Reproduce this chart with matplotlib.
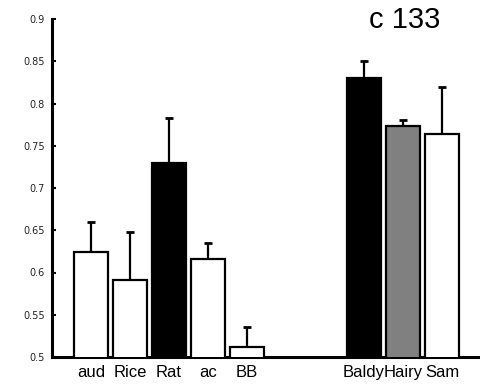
import matplotlib
matplotlib.use("Agg")
import matplotlib.pyplot as plt

categories = ["aud", "Rice", "Rat", "ac", "BB", "Baldy", "Hairy", "Sam"]
positions = [1, 2, 3, 4, 5, 8, 9, 10]
values = [0.624, 0.591, 0.730, 0.616, 0.512, 0.830, 0.773, 0.764]
errors = [0.036, 0.057, 0.053, 0.019, 0.024, 0.020, 0.007, 0.056]
colors = ["white", "white", "black", "white", "white", "black", "#808080", "white"]
yticks = [0.5, 0.55, 0.6, 0.65, 0.7, 0.75, 0.8, 0.85, 0.9]
ytick_labels = ["0.5", "0.55", "0.6", "0.65", "0.7", "0.75", "0.8", "0.85", "0.9"]
title = "c 133"

fig = plt.figure(figsize=(4.81, 3.91), dpi=100)
ax = fig.add_axes([52/481, 34/391, 1 - 52/481, (357-19)/391])

ax.bar(positions, values, width=0.85, color=colors, edgecolor="black",
       linewidth=1.6, zorder=3)
ax.errorbar(positions, values, yerr=[[0]*len(errors), errors], fmt="none",
            ecolor="black", elinewidth=1.6, capsize=3, capthick=2, zorder=2)

ax.set_xlim(0, 11)
ax.set_ylim(0.5, 0.9)
ax.set_yticks(yticks)
ax.set_yticklabels(ytick_labels, fontsize=7, family="DejaVu Sans", color="#222222")
ax.set_xticks(positions)
ax.set_xticklabels(categories, fontsize=12, family="Liberation Sans")
ax.tick_params(axis="x", length=0, pad=6)
ax.tick_params(axis="y", direction="in", length=3, width=1.5, pad=5)

for s in ["top", "right"]:
    ax.spines[s].set_visible(False)
ax.spines["left"].set_linewidth(2.2)
ax.spines["bottom"].set_linewidth(2.2)

fig.text(405/481, 1 - 20/391, title, fontsize=21, family="Liberation Sans",
         ha="center", va="center")

fig.savefig("out.png", dpi=100)
